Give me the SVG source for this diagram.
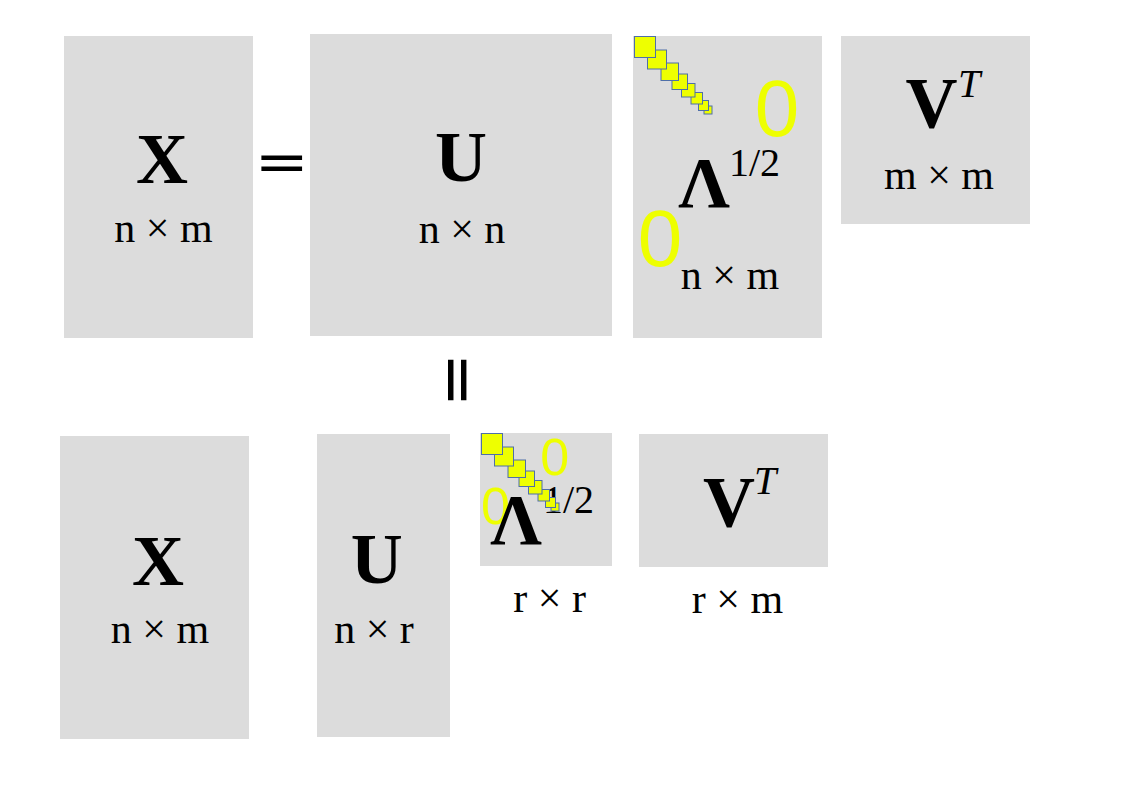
<svg xmlns="http://www.w3.org/2000/svg" width="1123" height="794" viewBox="0 0 1123 794">
<defs>
<style>
.box{fill:#dcdcdc}
.big{font-family:"Liberation Serif","Times New Roman",serif;font-weight:bold;font-size:72px;fill:#000;text-anchor:middle}
.dim{font-family:"Liberation Serif","Times New Roman",serif;font-size:42px;fill:#000;text-anchor:middle}
.sup{font-family:"Liberation Serif","Times New Roman",serif;font-size:40px;fill:#000}
.supi{font-family:"Liberation Serif","Times New Roman",serif;font-style:italic;font-size:40px;fill:#000}
.zero{font-family:"Liberation Sans",Arial,sans-serif;fill:#eeff00;text-anchor:middle}
.op{font-family:"DejaVu Sans",sans-serif;font-size:65px;fill:#000;text-anchor:middle}
.sq rect{fill:#eeff00;stroke:#4f6fa8;stroke-width:1}
</style>
<g id="diag" class="sq">
<rect x="71" y="70" width="8" height="8"/>
<rect x="65.5" y="64.5" width="10" height="10"/>
<rect x="58" y="56.5" width="11.5" height="11.5"/>
<rect x="48.5" y="47.5" width="13.5" height="13.5"/>
<rect x="39" y="38" width="15.5" height="15.5"/>
<rect x="28" y="27" width="17.5" height="17.5"/>
<rect x="14.5" y="14" width="19" height="19"/>
<rect x="1.5" y="0.5" width="21" height="21"/>
</g>
</defs>

<g id="X-top">
<rect class="box" x="64" y="36" width="189" height="302"/>
<text class="big" x="162" y="183">X</text>
<text class="dim" x="163.5" y="241.5">n × m</text>
</g>

<g id="equals">
<text class="op" transform="translate(281.6,162.9) scale(1,0.84)" x="0" y="21.5">=</text>
</g>

<g id="U-top">
<rect class="box" x="310" y="34" width="302" height="302"/>
<text class="big" x="461" y="181">U</text>
<text class="dim" x="462" y="242.5">n × n</text>
</g>

<g id="Lambda-top">
<rect class="box" x="633" y="36" width="189" height="302"/>
<text class="zero" x="777" y="135.5" font-size="80">0</text>
<text class="zero" x="660" y="266" font-size="80">0</text>
<text class="big" x="704" y="207">Λ</text>
<text class="sup" x="729" y="176">1/2</text>
<text class="dim" x="730" y="289">n × m</text>
<use href="#diag" x="633" y="36"/>
</g>

<g id="VT-top">
<rect class="box" x="841" y="36" width="189" height="188"/>
<text class="big" x="931.5" y="127">V</text>
<text class="supi" x="958" y="96.5">T</text>
<text class="dim" x="939" y="189">m × m</text>
</g>

<g id="equals-vertical">
<text class="op" transform="translate(458.3,379.9) rotate(90)" x="0" y="21.5">=</text>
</g>

<g id="X-bottom">
<rect class="box" x="60" y="436" width="189" height="303"/>
<text class="big" x="158" y="585">X</text>
<text class="dim" x="160" y="643">n × m</text>
</g>

<g id="U-bottom">
<rect class="box" x="317" y="434" width="133" height="303"/>
<text class="big" x="376.7" y="582.7">U</text>
<text class="dim" x="374" y="643">n × r</text>
</g>

<g id="Lambda-bottom">
<rect class="box" x="480" y="433" width="132" height="133"/>
<text class="zero" x="554.7" y="475" font-size="52">0</text>
<text class="zero" x="495.5" y="524" font-size="52">0</text>
<text class="big" x="516" y="544">Λ</text>
<text class="sup" x="543" y="513">1/2</text>
<use href="#diag" x="480" y="433"/>
<text class="dim" x="549.7" y="611.5">r × r</text>
</g>

<g id="VT-bottom">
<rect class="box" x="639" y="434" width="189" height="133"/>
<text class="big" x="729" y="526">V</text>
<text class="supi" x="754" y="494">T</text>
<text class="dim" x="737.5" y="612.5">r × m</text>
</g>
</svg>
